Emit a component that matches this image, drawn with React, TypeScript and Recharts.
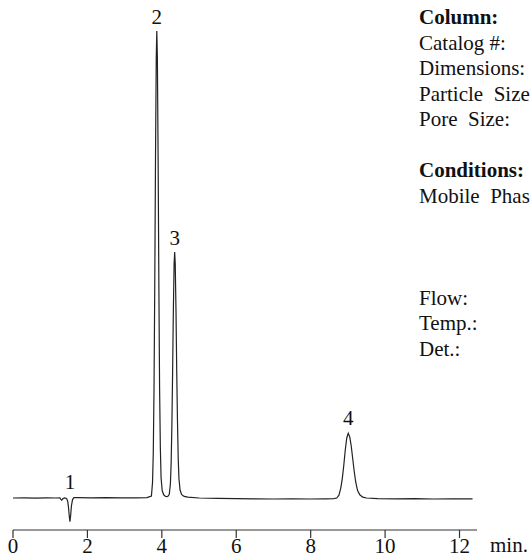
import React from "react"
import { LineChart, Line, XAxis, YAxis, ReferenceDot } from "recharts"

// retention time (min) and detector signal
const times = [
  0.0, 0.3, 0.6, 0.9, 1.15, 1.26, 1.29, 1.31, 1.34, 1.38, 1.44, 1.47, 1.49, 1.51, 1.53, 1.55, 1.57, 1.6, 1.64,
  1.75, 2.1, 2.5, 2.9, 3.3, 3.6, 3.72, 3.75, 3.77, 3.79, 3.81, 3.83, 3.85, 3.865, 3.88, 3.9, 3.92, 3.94, 3.96,
  3.98, 4.01, 4.05, 4.1, 4.14, 4.17, 4.2, 4.23, 4.25, 4.27, 4.29, 4.31, 4.33, 4.345, 4.36, 4.38, 4.4, 4.42,
  4.44, 4.46, 4.49, 4.53, 4.6, 4.7, 5.0, 5.5, 6.0, 6.5, 7.0, 7.5, 8.0, 8.4, 8.62, 8.7, 8.76, 8.81, 8.85, 8.89,
  8.93, 8.97, 9.01, 9.05, 9.09, 9.13, 9.17, 9.21, 9.26, 9.32, 9.4, 9.5, 9.8, 10.3, 10.8, 11.3, 11.8, 12.35,
]
const signal = [
  0.0, 0.05, -0.05, 0.05, 0.0, 0.05, -0.4, -0.55, -0.2, 0.05, -0.1, -0.8, -2.2, -4.3, -5.9, -4.3, -2.0, -0.4, 0.1,
  0.1, 0.05, 0.1, 0.05, 0.05, 0.1, 0.5, 3.9, 11.3, 27.3, 53.5, 85.1, 110.2, 116.75, 110.2, 85.1, 53.5, 27.3, 12.5,
  5.0, 1.8, 0.8, 0.4, 0.35, 0.5, 0.9, 3.5, 8.7, 18.2, 31.9, 47.2, 58.6, 61.5, 58.6, 47.2, 31.9, 19.5,
  10.0, 4.8, 2.0, 0.9, 0.4, 0.2, 0.0, -0.1, -0.15, -0.2, -0.25, -0.2, -0.25, -0.2, -0.15, 0.0, 0.7, 2.5, 4.85, 8.2,
  12.0, 15.0, 16.2, 15.3, 13.0, 9.8, 6.7, 4.0, 1.85, 0.8, 0.2, 0.0, -0.15, -0.2, -0.15, -0.25, -0.2, -0.2,
]

const xTicks = [0, 2, 4, 6, 8, 10, 12]

const peakNames = ["1", "2", "3", "4"]
const peakTimes = [1.53, 3.865, 4.345, 9.01]
const peakTops = [0, 116.75, 61.5, 16.2]
const peakGaps = [9, 7, 7, 8]

const infoLines = [
  { text: "Column:", bold: true },
  { text: "Catalog #:", bold: false },
  { text: "Dimensions:", bold: false },
  { text: "Particle  Size:", bold: false },
  { text: "Pore  Size:", bold: false },
  { text: "", bold: false },
  { text: "Conditions:", bold: true },
  { text: "Mobile  Phase:", bold: false },
  { text: "", bold: false },
  { text: "", bold: false },
  { text: "", bold: false },
  { text: "Flow:", bold: false },
  { text: "Temp.:", bold: false },
  { text: "Det.:", bold: false },
]

const data = times.map((t, i) => ({ t, v: signal[i] }))

const serif = "Liberation Serif"

export default function App() {
  return (
    <div
      style={{
        position: "absolute",
        left: 0,
        top: 0,
        width: 530,
        height: 558,
        overflow: "hidden",
        background: "#fff",
        fontFamily: serif,
      }}
    >
      <LineChart
        width={530}
        height={558}
        data={data}
        margin={{ top: 18, right: 53, left: 13, bottom: 0 }}
        style={{ fontFamily: serif }}
      >
        <XAxis
          dataKey="t"
          type="number"
          domain={[0, 12.47]}
          ticks={xTicks}
          allowDataOverflow
          height={28}
          tickSize={8}
          tickMargin={0}
          stroke="#333"
          strokeWidth={1.2}
          tick={{ fontFamily: serif, fontSize: 21, fill: "#111", style: { fontFamily: serif } }}
        />
        <YAxis hide domain={[-8, 120]} allowDataOverflow />
        <Line
          dataKey="v"
          type="linear"
          stroke="#222"
          strokeWidth={1.2}
          dot={false}
          isAnimationActive={false}
        />
        {peakNames.map((name, i) => (
          <ReferenceDot
            key={name}
            x={peakTimes[i]}
            y={peakTops[i]}
            r={0}
            fill="none"
            stroke="none"
            ifOverflow="visible"
            label={{
              content: (props: any) => {
                const vb = props.viewBox || {}
                return (
                  <text
                    x={vb.x}
                    y={vb.y - peakGaps[i]}
                    textAnchor="middle"
                    style={{ fontFamily: serif, fontSize: 21 }}
                    fill="#111"
                  >
                    {name}
                  </text>
                )
              },
            }}
          />
        ))}
      </LineChart>
      <div
        style={{
          position: "absolute",
          left: 490,
          top: 535,
          fontSize: 21,
          lineHeight: "21px",
          color: "#111",
          whiteSpace: "nowrap",
        }}
      >
        min.
      </div>
      <div
        style={{
          position: "absolute",
          left: 419,
          top: 5,
          fontSize: 21,
          lineHeight: "25.5px",
          color: "#111",
          whiteSpace: "pre",
        }}
      >
        {infoLines.map((l, i) => (
          <div key={i} style={{ fontWeight: l.bold ? 700 : 400, height: 25.5 }}>
            {l.text}
          </div>
        ))}
      </div>
    </div>
  )
}
